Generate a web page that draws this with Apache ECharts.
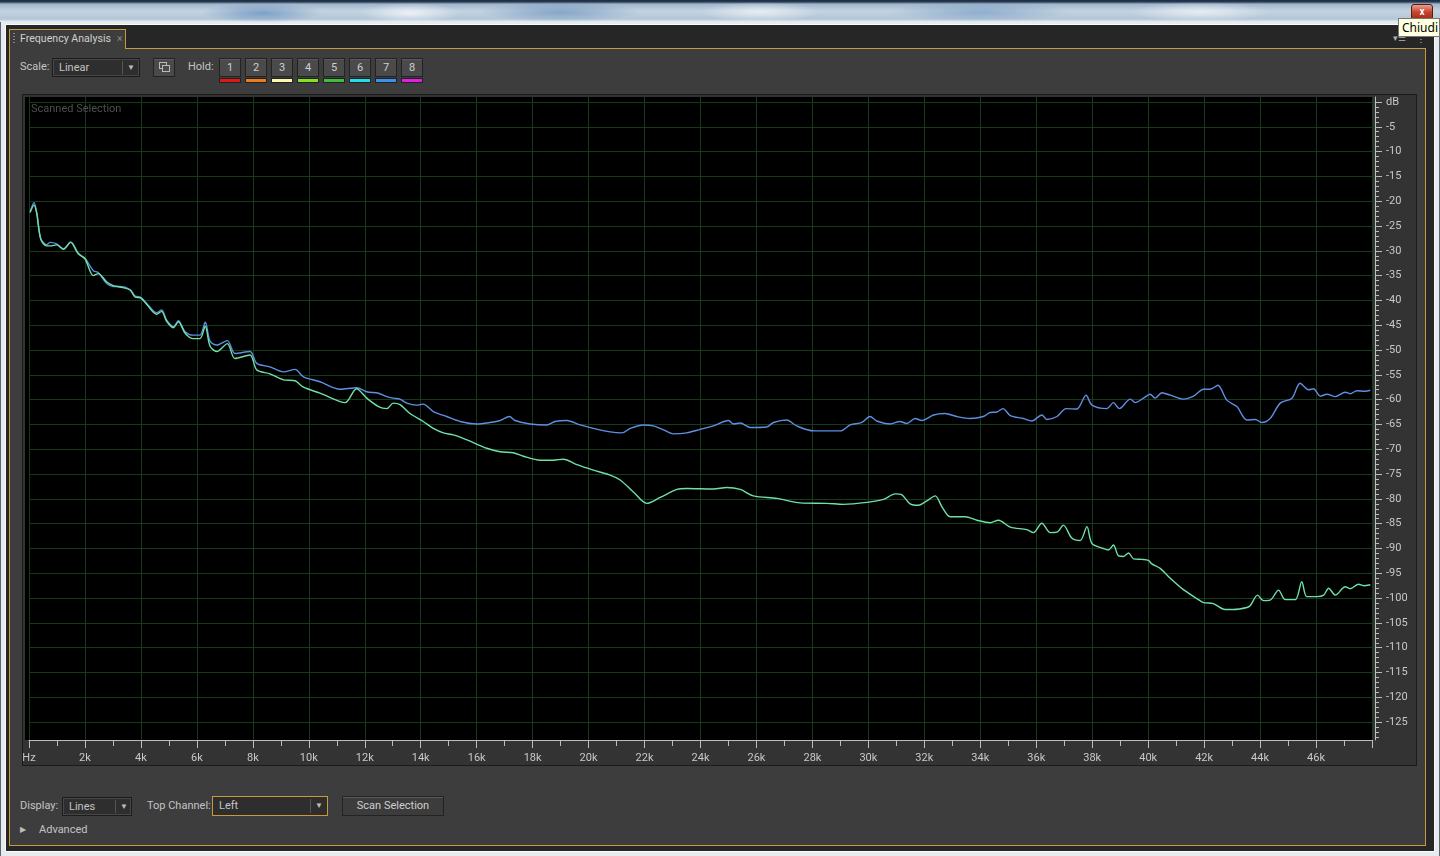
<!DOCTYPE html>
<html><head><meta charset="utf-8">
<script src="https://cdn.jsdelivr.net/npm/echarts@6/dist/echarts.min.js"></script>
<style>
html,body{margin:0;padding:0;width:1440px;height:856px;overflow:hidden;background:#8c9cac;font-family:Roboto,"Noto Sans",sans-serif;font-size:11px;color:#c4c4c4}
div{box-sizing:border-box}
.a{position:absolute}
#titlebar{left:0;top:0;width:1440px;height:24px;
 background:
 radial-gradient(ellipse 60px 10px at 262px 13px, rgba(70,120,180,.55), rgba(70,120,180,0)),
 radial-gradient(ellipse 50px 10px at 410px 13px, rgba(255,255,255,.7), rgba(255,255,255,0)),
 radial-gradient(ellipse 80px 10px at 560px 12px, rgba(60,110,170,.45), rgba(60,110,170,0)),
 radial-gradient(ellipse 60px 10px at 760px 12px, rgba(255,255,255,.6), rgba(255,255,255,0)),
 radial-gradient(ellipse 90px 10px at 980px 12px, rgba(70,120,180,.4), rgba(70,120,180,0)),
 radial-gradient(ellipse 70px 10px at 1200px 12px, rgba(255,255,255,.6), rgba(255,255,255,0)),
 linear-gradient(#1c2a3c 0px,#2c4058 2px,#9fb6cb 4px,#c3d3e1 11px,#b3c6d7 19px,#e9eff4 22px,#f6f8fa 24px);}
#win{left:0;top:22px;width:1440px;height:834px;background:#e6ebf0;border-left:1px solid #5c6670;border-right:1px solid #5c6670}
#inner{left:5px;top:24px;width:1430px;height:828px;background:#262626;border:1px solid #fafafa}
#panel{left:9px;top:48px;width:1417px;height:798px;background:#3d3d3d;border:1px solid #c79b3b}
#tab{left:9px;top:29px;width:117px;height:20px;background:#3d3d3d;border:1px solid #c79b3b;border-bottom:none;z-index:2}
.txt{white-space:nowrap;color:#c4c4c4;line-height:18px;height:18px}
.dd{background:#2e2e2e;border:1px solid #1c1c1c;box-shadow:inset 0 0 0 1px #474747;height:19px;line-height:17px;color:#c4c4c4;padding-left:6px}
.dd .sep{position:absolute;top:2px;bottom:2px;width:1px;background:#555}
.dd .arr{position:absolute;top:0;font-size:8px;color:#bdbdbd}
.btn{background:#4a4a4a;border:1px solid #232323;box-shadow:inset 0 1px 0 #5a5a5a;height:19px;line-height:17px;text-align:center;color:#cfcfcf}
.bar{height:5px;top:78px;width:22px}
#plotbox{left:22px;top:94px;width:1395px;height:672px;background:#333;border:1px solid #1b1b1b}
#plot{left:25px;top:97px;width:1347px;height:643px;background:#000}
#chart{left:0;top:0;width:1440px;height:856px;z-index:5}
#tip{left:1398px;top:18px;width:42px;height:19px;background:#ffffe1;border:1px solid #767676;color:#000;font-size:12px;line-height:17px;padding-left:3px;z-index:7;font-family:"Noto Sans",sans-serif}
#close{left:1411px;top:4px;width:22px;height:16px;border:1px solid #5a1a10;border-radius:3px;background:linear-gradient(#e8a090,#c8452f 50%,#a82a18);color:#fff;font-size:10px;font-weight:bold;text-align:center;line-height:13px;z-index:6}
</style></head>
<body>
<div id="titlebar" class="a"></div>
<div id="close" class="a">x</div>
<div id="win" class="a"></div>
<div id="inner" class="a"></div>
<div id="panel" class="a"></div>
<div id="tab" class="a"></div>
<div class="a" style="left:13px;top:33px;width:2px;height:12px;z-index:3;background:repeating-linear-gradient(#888 0 1px,transparent 1px 3px)"></div>
<div class="a txt" style="left:20px;top:30px;z-index:3;color:#d0d0d0;font-size:10.6px">Frequency Analysis</div>
<div class="a txt" style="left:117px;top:30px;z-index:3;color:#8a8a8a;font-size:10px">×</div>
<div class="a txt" style="left:1393px;top:29px;z-index:3;color:#b0b0b0;font-size:9px">▾☰</div>
<div class="a" style="left:1420px;top:33px;width:2px;height:12px;z-index:3;background:repeating-linear-gradient(#777 0 1px,transparent 1px 3px)"></div>

<div class="a txt" style="left:20px;top:58px">Scale:</div>
<div class="a dd" style="left:52px;top:58px;width:88px">Linear<div class="sep" style="left:69px"></div><div class="arr" style="left:74px">▼</div></div>
<div class="a btn" style="left:153px;top:58px;width:22px">
 <div class="a" style="left:5px;top:3px;width:8px;height:7px;border:1px solid #bbb"></div>
 <div class="a" style="left:8px;top:6px;width:8px;height:7px;border:1px solid #bbb;background:#4a4a4a"></div>
</div>
<div class="a txt" style="left:188px;top:58px">Hold:</div>
<div id="holds"></div>

<div id="plotbox" class="a"></div>
<div id="plot" class="a"></div>
<div class="a txt" style="left:31px;top:100px;color:#4f4f4f;z-index:6">Scanned Selection</div>

<div class="a txt" style="left:20px;top:797px">Display:</div>
<div class="a dd" style="left:62px;top:797px;width:70px">Lines<div class="sep" style="left:52px"></div><div class="arr" style="left:57px">▼</div></div>
<div class="a txt" style="left:147px;top:797px">Top Channel:</div>
<div class="a dd" style="left:212px;top:796px;width:116px;height:20px;border:1px solid #c79b3b;box-shadow:none">Left<div class="sep" style="left:97px"></div><div class="arr" style="left:102px">▼</div></div>
<div class="a btn" style="left:342px;top:796px;width:102px;height:20px;line-height:18px;background:#3c3c3c">Scan Selection</div>
<div class="a txt" style="left:20px;top:821px;font-size:8px;color:#bbb">▶</div>
<div class="a txt" style="left:39px;top:821px">Advanced</div>

<div id="tip" class="a">Chiudi</div>
<div id="chart" class="a"></div>
<script>
// ---- data (frequency in kHz, level in dB) ----
const blueKHz = [0.04,0.18,0.28,0.42,0.63,0.75,0.99,1.23,1.49,1.76,
 2.00,2.30,2.48,2.78,3.01,3.25,3.61,3.79,3.99,4.21,
 4.56,4.74,4.92,5.16,5.34,5.58,5.87,6.11,6.30,6.47,
 6.71,7.09,7.36,7.90,8.14,8.61,9.09,9.51,9.81,10.40,
 11.12,11.71,12.07,12.49,12.79,13.02,13.26,13.50,13.86,14.09,
 14.45,14.93,15.41,16.00,16.48,16.84,17.17,17.37,17.91,18.51,
 18.80,19.22,19.70,20.17,20.77,21.19,21.49,21.96,22.32,22.68,
 23.03,23.51,23.99,24.46,25.00,25.18,25.42,25.77,26.37,26.61,
 27.08,27.44,28.04,29.00,29.35,29.77,30.06,30.30,30.78,31.13,
 31.37,31.67,31.91,32.33,32.74,33.16,33.64,34.11,34.35,34.59,
 34.81,35.07,35.54,35.84,36.20,36.38,36.74,37.07,37.45,37.78,
 37.99,38.52,38.76,38.97,39.36,39.54,39.83,40.07,40.25,40.49,
 40.79,41.26,41.62,41.98,42.22,42.49,42.81,43.17,43.53,43.83,
 44.06,44.36,44.72,45.14,45.43,45.73,45.91,46.15,46.39,46.69,
 47.04,47.22,47.46,47.75,47.94];
const blueDb = [-22.1,-20.3,-22.4,-27.5,-28.8,-28.3,-28.6,-29.6,-28.2,-30.5,
 -31.5,-34.0,-34.4,-36.6,-37.2,-37.2,-37.8,-39.1,-39.4,-40.6,
 -42.5,-41.9,-44.0,-45.3,-44.1,-46.3,-47.0,-47.0,-44.4,-48.2,
 -49.0,-48.1,-50.7,-50.3,-52.7,-53.4,-54.4,-53.9,-55.4,-56.4,
 -57.9,-57.6,-58.4,-58.7,-59.4,-59.7,-59.9,-60.7,-61.1,-60.9,
 -62.4,-63.4,-64.4,-64.9,-64.6,-64.2,-63.4,-64.2,-64.9,-65.1,
 -64.4,-64.2,-65.1,-65.8,-66.5,-66.7,-65.8,-65.1,-65.3,-66.1,
 -66.9,-66.7,-66.0,-65.3,-64.2,-64.9,-64.7,-65.6,-65.5,-64.6,
 -64.1,-65.3,-66.3,-66.3,-65.1,-64.6,-63.4,-64.3,-64.9,-64.4,
 -64.8,-63.8,-64.2,-63.1,-62.8,-63.4,-63.8,-63.4,-62.6,-62.5,
 -61.8,-63.2,-63.8,-64.3,-63.1,-64.0,-63.4,-61.8,-61.9,-59.1,
 -61.1,-61.8,-60.6,-61.8,-59.9,-60.6,-59.7,-58.9,-59.7,-58.6,
 -59.1,-59.9,-59.3,-57.9,-57.9,-57.1,-60.1,-61.4,-64.1,-64.0,
 -64.6,-63.8,-60.7,-59.7,-56.7,-58.0,-57.8,-59.3,-58.9,-59.4,
 -58.5,-58.8,-58.2,-58.3,-58.1];
const greenKHz = [0.04,0.18,0.28,0.42,0.63,0.75,0.99,1.23,1.49,1.76,
 2.00,2.30,2.48,2.78,3.01,3.25,3.61,3.79,3.99,4.21,
 4.56,4.74,4.92,5.16,5.34,5.58,5.87,6.11,6.30,6.47,
 6.71,7.09,7.36,7.90,8.14,8.61,9.09,9.51,9.81,10.40,
 11.12,11.30,11.71,12.07,12.49,12.79,13.02,13.26,13.62,14.09,
 14.45,14.81,15.17,15.65,16.36,16.84,17.31,17.67,18.27,18.74,
 19.10,19.58,20.17,20.77,21.13,21.60,22.08,22.56,23.16,23.51,
 24.46,24.94,25.42,25.89,26.73,27.56,28.52,29.11,29.95,30.54,
 30.96,31.20,31.49,31.79,32.09,32.39,32.63,32.92,33.46,33.88,
 34.35,34.65,35.07,35.66,35.90,36.20,36.50,36.74,36.97,37.27,
 37.57,37.81,37.99,38.40,38.58,38.76,38.94,39.12,39.30,39.48,
 39.78,40.01,40.13,40.43,40.79,41.26,41.74,41.98,42.33,42.75,
 43.05,43.53,43.65,43.91,44.12,44.36,44.66,44.90,45.26,45.49,
 45.67,46.03,46.27,46.45,46.69,47.04,47.22,47.52,47.70,47.94];
const greenDb = [-22.3,-20.8,-22.6,-27.7,-29.0,-29.0,-28.8,-29.7,-28.3,-30.6,
 -31.6,-35.0,-34.6,-36.3,-37.0,-37.3,-37.9,-39.3,-39.5,-40.8,
 -42.8,-42.2,-44.2,-45.5,-44.3,-46.6,-47.7,-47.7,-45.2,-49.2,
 -50.3,-48.7,-51.7,-51.0,-54.0,-54.8,-56.0,-56.2,-57.5,-58.7,
 -60.4,-60.6,-57.8,-59.7,-61.4,-61.8,-60.7,-61.0,-62.8,-64.4,
 -65.8,-66.7,-67.1,-68.1,-69.8,-70.5,-70.7,-71.4,-72.2,-72.2,
 -72.0,-73.1,-74.2,-75.2,-76.2,-78.6,-80.9,-79.7,-78.1,-77.9,
 -78.0,-77.7,-78.1,-79.4,-79.9,-80.8,-80.9,-81.1,-80.7,-80.1,
 -79.0,-79.2,-81.0,-81.3,-80.4,-79.4,-81.6,-83.6,-83.6,-84.3,
 -84.8,-84.3,-85.7,-86.2,-86.8,-84.9,-86.8,-86.7,-85.3,-87.9,
 -88.4,-85.6,-89.0,-90.0,-90.3,-89.3,-91.5,-91.6,-90.9,-92.1,
 -92.2,-92.4,-93.1,-94.0,-96.0,-98.3,-100.1,-100.9,-101.1,-102.3,
 -102.3,-101.9,-101.5,-99.4,-100.5,-100.4,-98.4,-100.3,-100.3,-96.7,
 -99.7,-99.7,-99.4,-98.0,-99.4,-97.7,-98.1,-97.2,-97.5,-97.3];
const yMajorTicks = [0,-5,-10,-15,-20,-25,-30,-35,-40,-45,-50,-55,-60,-65,-70,-75,-80,-85,-90,-95,-100,-105,-110,-115,-120,-125];
const yMinorTicks = [];
for (let v = 0; v >= -128; v--) yMinorTicks.push(v);
const holdLabels = ['1','2','3','4','5','6','7','8'];
const holdColors = ['#e01818','#ee7a1c','#fbf8b0','#86e21e','#3fbf3f','#22dcef','#3a92ee','#e020e0'];

// hold buttons
const holds = document.getElementById('holds');
holdLabels.forEach((t,i)=>{
  const b=document.createElement('div'); b.className='a btn';
  b.style.cssText='left:'+(219+i*26)+'px;top:58px;width:22px;'; b.textContent=t; holds.appendChild(b);
  const c=document.createElement('div'); c.className='a bar';
  c.style.cssText='left:'+(219+i*26)+'px;background:'+holdColors[i]+';border:1px solid #222;'; holds.appendChild(c);
});

const pair=(xs,ys)=>xs.map((x,i)=>[x,ys[i]]);
const FONT='Roboto, "Noto Sans", sans-serif';
const axisCol='#bdbdbd', gridCol='#173a1b';
const chart=echarts.init(document.getElementById('chart'),null,{renderer:'canvas'});
chart.setOption({
  animation:false,
  backgroundColor:'transparent',
  grid:{left:29,top:97,width:1343,height:643,containLabel:false,outerBoundsMode:'none',show:false},
  xAxis:{type:'value',min:0,max:48,interval:2,
    axisLine:{show:true,onZero:false,lineStyle:{color:axisCol,width:1}},
    axisTick:{show:true,length:8,lineStyle:{color:axisCol}},
    minorTick:{show:true,splitNumber:2,length:6,lineStyle:{color:axisCol}},
    axisLabel:{color:'#c8c8c8',fontSize:11,fontFamily:FONT,margin:13,showMaxLabel:false,
      formatter:v=>v===0?'Hz':(v>=48?'':v+'k')},
    splitLine:{show:true,lineStyle:{color:gridCol,width:1}}},
  yAxis:[
    {type:'value',position:'right',offset:3,min:-128.6,max:1,
     axisLine:{show:true,onZero:false,lineStyle:{color:axisCol}},
     axisTick:{show:true,length:7,customValues:yMajorTicks,lineStyle:{color:axisCol}},
     axisLabel:{show:true,customValues:yMajorTicks,color:'#c8c8c8',fontSize:11,fontFamily:FONT,margin:11,
       formatter:v=>v===0?'dB':String(v)},
     splitLine:{show:true,lineStyle:{color:gridCol,width:1}}},
    {type:'value',position:'right',offset:3,min:-128.6,max:1,
     axisLine:{show:false,onZero:false},
     axisTick:{show:true,length:4,customValues:yMinorTicks,lineStyle:{color:axisCol}},
     axisLabel:{show:false},splitLine:{show:false}}
  ],
  series:[
    {type:'line',name:'Right',data:pair(blueKHz,blueDb),showSymbol:false,smooth:0.3,
     lineStyle:{color:'#5f8fe2',width:1.4},z:3},
    {type:'line',name:'Left',data:pair(greenKHz,greenDb),showSymbol:false,smooth:0.3,
     lineStyle:{color:'#6fe0a6',width:1.4},z:4}
  ]
});
</script>
</body></html>
